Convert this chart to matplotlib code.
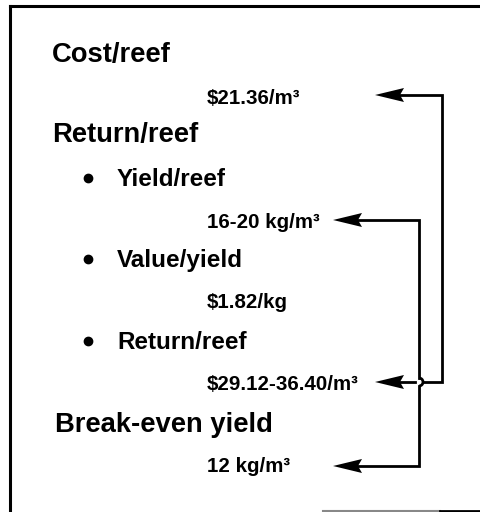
import matplotlib.pyplot as plt
from matplotlib.patches import Polygon, Arc

plt.rcParams['font.family'] = ['Liberation Sans', 'DejaVu Sans']

# text content of the diagram
headings = ['Cost/reef', 'Return/reef', 'Break-even yield']
bullets = ['Yield/reef', 'Value/yield', 'Return/reef']
values = ['$21.36/m³', '16-20 kg/m³', '$1.82/kg', '$29.12-36.40/m³', '12 kg/m³']

# layout (pixel coords, y down)
head_y = [62, 142, 432]
head_x = [52, 52, 55]
bullet_y = [186, 267, 349]
value_y = [104, 228, 308, 390, 472]
value_x = 207

fig = plt.figure(figsize=(4.8, 5.12), dpi=100)
ax = fig.add_axes([0, 0, 1, 1])
ax.set_xlim(0, 480)
ax.set_ylim(512, 0)
ax.axis('off')

for txt, x, y in zip(headings, head_x, head_y):
    ax.text(x, y, txt, fontsize=19.7, fontweight='bold', va='baseline', ha='left')

for txt, y in zip(bullets, bullet_y):
    ax.plot(88, y - 8, 'o', color='black', markersize=6)
    ax.text(117, y, txt, fontsize=17.5, fontweight='bold', va='baseline', ha='left')

for txt, y in zip(values, value_y):
    ax.text(value_x, y, txt, fontsize=14.8, fontweight='bold', va='baseline', ha='left')

lw = 2.0


def arrowhead(tx, ty):
    ax.add_patch(Polygon([(tx, ty), (tx + 29, ty - 7), (tx + 25, ty), (tx + 29, ty + 7)],
                         closed=True, color='black', lw=0))


# connector from cost and return/reef lines
ax.plot([400, 442, 442, 423], [95, 95, 382, 382], color='black', lw=lw, solid_joinstyle='miter')
ax.plot([415, 400], [382, 382], color='black', lw=lw)
arrowhead(375, 95)
arrowhead(375, 382)

# connector from yield to break-even
ax.plot([358, 419, 419], [220, 220, 378], color='black', lw=lw, solid_joinstyle='miter')
ax.add_patch(Arc((419, 382), 8, 8, theta1=-90, theta2=90, color='black', lw=lw))
ax.plot([419, 419, 358], [386, 466, 466], color='black', lw=lw, solid_joinstyle='miter')
arrowhead(333, 220)
arrowhead(333, 466)

# frame
ax.plot([10, 480], [6, 6], color='black', lw=2.2)
ax.plot([10, 10], [6, 512], color='black', lw=2.2)
ax.plot([323, 440], [511, 511], color='#888888', lw=1.5)
ax.plot([440, 480], [511, 511], color='black', lw=2)

fig.savefig('out.png', dpi=100)
